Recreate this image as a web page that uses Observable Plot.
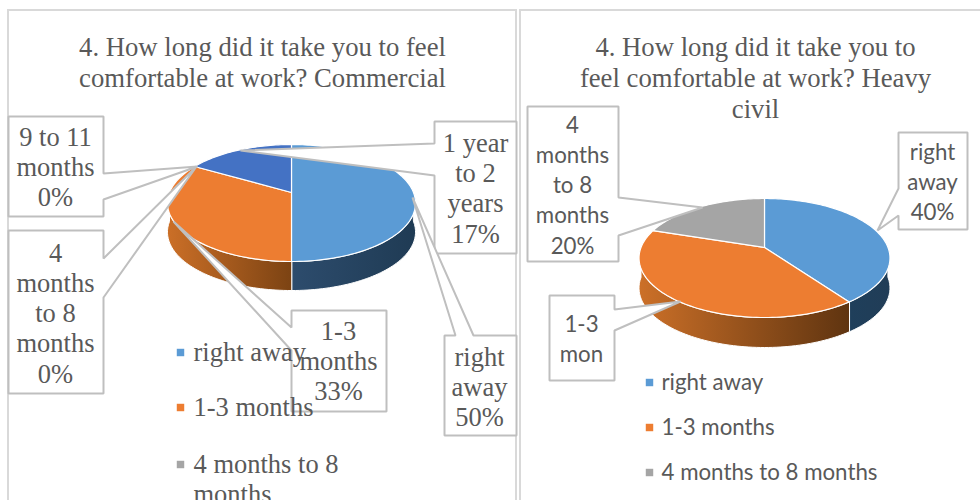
<!DOCTYPE html>
<html>
<head>
<meta charset="utf-8">
<script src="https://cdn.jsdelivr.net/npm/d3@7"></script>
<script src="https://cdn.jsdelivr.net/npm/@observablehq/plot@0.6"></script>
<style>html,body{margin:0;padding:0;background:#fff;overflow:hidden}svg{display:block}</style>
</head>
<body>
<div id="chart"></div>
<script>
const commercialCategories = ["right away", "1-3 months", "4 months to 8 months", "9 to 11 months", "1 year to 2 years"];
const commercialShares = [50, 33.33, 0, 0, 16.67];
const commercialColors = ["#5b9bd5", "#ed7d31", "#a5a5a5", "#ffc000", "#4472c4"];
const heavyCategories = ["right away", "1-3 months", "4 months to 8 months"];
const heavyShares = [40, 40, 20];
const heavyColors = ["#5b9bd5", "#ed7d31", "#a5a5a5"];
const commercialLegend = ["right away", "1-3 months", "4 months to 8"];
const commercialLegendWrap = "months";
const heavyLegend = ["right away", "1-3 months", "4 months to 8 months"];
const titles = ["4. How long did it take you to feel\ncomfortable at work? Commercial", "4. How long did it take you to\nfeel comfortable at work? Heavy\ncivil"];

// layout only
const SERIF = "'Liberation Serif', serif", SANS = "Lato, 'Open Sans', sans-serif";
const INK = "#595959", RULE = "#bfbfbf", FRAME = "#d9d9d9";
const panels = [
  {x1: 8, x2: 516, y1: 10, y2: 520},
  {x1: 520, x2: 990, y1: 10, y2: 520}
];
const pies = [
  {cx: 291, cy: 192, sx: 122, s: 56.6, p: 0.18, depth: 29, shares: commercialShares, colors: commercialColors, id: "c",
   sides: [["#2d4c6d", "#1f3b54"], ["#cb6f27", "#7c4313"]]},
  {cx: 764, cy: 247, sx: 123.5, s: 57.65, p: 0.1765, depth: 30, shares: heavyShares, colors: heavyColors, id: "h",
   sides: [["#1f3f5b", "#213d57"], ["#cc7028", "#5f3410"]]}
];
const callouts = [
  {text: "1 year\nto 2\nyears\n17%", x: 475, y: 187, font: SERIF, size: 26.5,
   shape: [[434,121],[516,121],[516,253],[434,253],[434,175],[240,150],[434,143]]},
  {text: "9 to 11\nmonths\n0%", x: 55, y: 166, font: SERIF, size: 26.5,
   shape: [[8,116],[103,116],[103,173],[197,166],[103,199],[103,216],[8,216]]},
  {text: "4\nmonths\nto 8\nmonths\n0%", x: 55, y: 312, font: SERIF, size: 26.5,
   shape: [[8,230],[103,230],[103,258],[196,166],[103,297],[103,393],[8,393]]},
  {text: "1-3\nmonths\n33%", x: 338, y: 360, font: SERIF, size: 26.5,
   shape: [[291,310],[386,310],[386,411],[291,411],[291,350],[173,221],[291,327]]},
  {text: "right\naway\n50%", x: 479, y: 386, font: SERIF, size: 26.5,
   shape: [[444,335],[455,335],[412,197],[473,335],[516,335],[516,435],[444,435]]},
  {text: "right\naway\n40%", x: 932, y: 180, font: SANS, size: 22.3,
   shape: [[898,132],[967,132],[967,229],[898,229],[898,215],[877,230],[898,188]]},
  {text: "4\nmonths\nto 8\nmonths\n20%", x: 572, y: 183, font: SANS, size: 22.3,
   shape: [[527,106],[618,106],[618,197],[702,207],[618,235],[618,261],[527,261]]},
  {text: "1-3\nmon", x: 581, y: 337, font: SANS, size: 22.3,
   shape: [[549,295],[614,295],[614,309],[680,301],[614,330],[614,380],[549,380]]}
];
const legends = [
  {items: commercialLegend, colors: ["#5b9bd5","#ed7d31","#a5a5a5"], mx: 180, tx: 193, ys: [352, 407, 464], font: SERIF, size: 26.5, wrap: commercialLegendWrap, wrapY: 494},
  {items: heavyLegend, colors: ["#5b9bd5","#ed7d31","#a5a5a5"], mx: 649, tx: 661, ys: [382, 427, 472], font: SANS, size: 22.3}
];

// geometry: each share is a wedge of a tilted circle in perspective
function point(pie, frac, dy = 0) {
  const a = frac * 2 * Math.PI, X = Math.sin(a), Y = Math.cos(a), w = 1 + pie.p * Y;
  return [pie.cx + pie.sx * X / w, pie.cy - pie.s * Y / w + dy];
}
function arc(pie, f0, f1, dy = 0) {
  const n = Math.max(2, Math.ceil((f1 - f0) * 240)), out = [];
  for (let i = 0; i <= n; ++i) out.push(point(pie, f0 + (f1 - f0) * i / n, dy));
  return out;
}
function wedges(pie) {
  const total = d3.sum(pie.shares); let c = 0;
  return pie.shares.map((v, i) => { const f0 = c / total; c += v; return {f0, f1: c / total, color: pie.colors[i], i}; })
    .filter(d => d.f1 > d.f0);
}
const poly = (pts, o) => Plot.line(pts, {x: d => d[0], y: d => d[1], curve: "linear-closed", ...o});

const defs = () => {
  const ns = "http://www.w3.org/2000/svg", d = document.createElementNS(ns, "defs");
  for (const pie of pies) pie.sides.forEach((stops, j) => {
    const g = document.createElementNS(ns, "linearGradient");
    g.setAttribute("id", `side-${pie.id}-${j}`);
    stops.forEach((c, k) => {
      const s = document.createElementNS(ns, "stop");
      s.setAttribute("offset", k); s.setAttribute("stop-color", c); g.appendChild(s);
    });
    d.appendChild(g);
  });
  return d;
};

const marks = [defs];
for (const p of panels) marks.push(Plot.rect([p], {x1: "x1", x2: "x2", y1: "y1", y2: "y2", fill: "white", stroke: FRAME, strokeWidth: 2}));
for (const pie of pies) {
  const front = [0.25, 0.75];
  wedges(pie).forEach(w => {
    const f0 = Math.max(w.f0, front[0]), f1 = Math.min(w.f1, front[1]);
    if (f1 <= f0) return;
    const pts = [...arc(pie, f0, f1), ...arc(pie, f0, f1, pie.depth).reverse()];
    marks.push(poly(pts, {fill: `url(#side-${pie.id}-${w.i})`, stroke: "white", strokeWidth: 1}));
  });
  wedges(pie).forEach(w => {
    marks.push(poly([[pie.cx, pie.cy], ...arc(pie, w.f0, w.f1)], {fill: w.color, stroke: "white", strokeWidth: 1.2}));
  });
}
for (const c of callouts) {
  marks.push(poly(c.shape, {fill: "white", stroke: RULE, strokeWidth: 2, strokeLinejoin: "miter"}));
  marks.push(Plot.text([c], {x: "x", y: "y", text: "text", fontFamily: c.font, fontSize: c.size, lineHeight: 30.3 / c.size, fill: INK}));
}
legends.forEach(l => {
  const rows = l.items.map((t, i) => ({t, y: l.ys[i], my: l.ys[i], c: l.colors[i]}));
  if (l.wrap) rows.push({t: l.wrap, y: l.wrapY, my: null, c: null});
  marks.push(Plot.dot(rows.filter(r => r.c), {x: () => l.mx, y: "my", fill: "c", symbol: "square", r: 4.2}));
  marks.push(Plot.text(rows, {x: () => l.tx, y: "y", text: "t", textAnchor: "start", fontFamily: l.font, fontSize: l.size, fill: INK}));
});
marks.push(Plot.text([titles[0]], {x: () => 262, y: () => 61, text: d => d, fontFamily: SERIF, fontSize: 26.7, lineHeight: 31 / 26.7, fill: INK}));
marks.push(Plot.text([titles[1]], {x: () => 755, y: () => 77, text: d => d, fontFamily: SERIF, fontSize: 26.7, lineHeight: 31 / 26.7, fill: INK}));

const chart = Plot.plot({
  width: 980, height: 500, margin: 0,
  style: {background: "white"},
  x: {domain: [0, 980], range: [0, 980], axis: null},
  y: {domain: [0, 500], range: [0, 500], axis: null},
  color: {type: "identity"},
  marks
});
document.getElementById("chart").appendChild(chart);
</script>
</body>
</html>
